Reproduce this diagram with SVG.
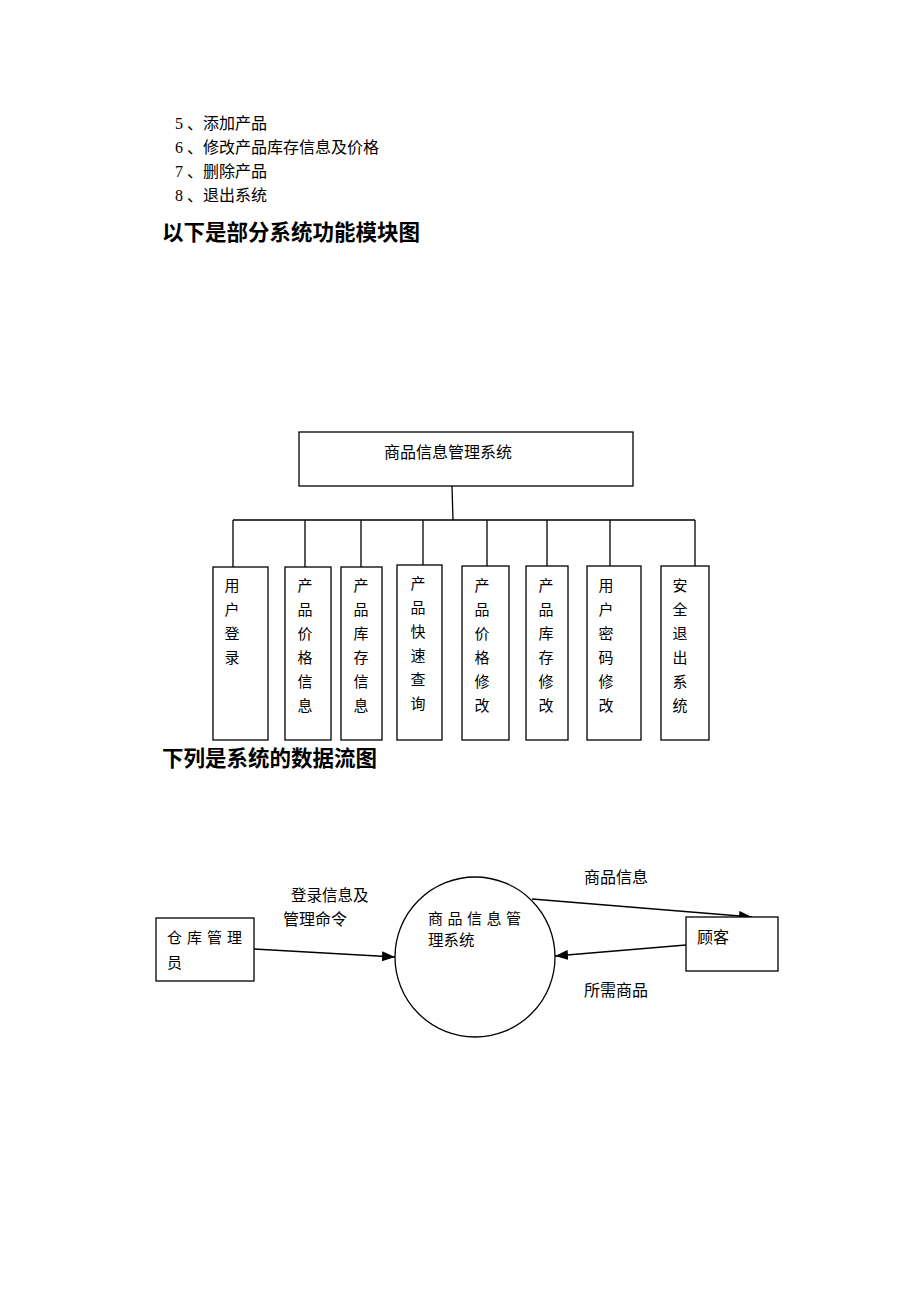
<svg xmlns="http://www.w3.org/2000/svg" width="920" height="1302" viewBox="0 0 920 1302">
<style>
text{font-family:"Liberation Serif","Noto Sans CJK SC",serif;fill:#000}
.t{font-size:16px}
.h{font-size:21.5px;font-weight:bold;font-family:"Liberation Sans","Noto Sans CJK SC",sans-serif}
.v{font-size:15px;text-anchor:middle;font-family:"Liberation Sans","Noto Sans CJK SC",sans-serif}
.s{font-size:15px;font-family:"Liberation Sans","Noto Sans CJK SC",sans-serif}
.box{fill:#fff;stroke:#000;stroke-width:1.3}
.ln{stroke:#000;stroke-width:1.3;fill:none}
</style>
<defs>
<marker id="ah" viewBox="0 0 13 10" refX="13" refY="5" markerWidth="13" markerHeight="10" markerUnits="userSpaceOnUse" orient="auto">
<path d="M0,0 L13,5 L0,10 Z" fill="#000"/>
</marker>
</defs>
<rect width="920" height="1302" fill="#fff"/>
<g id="intro">
<text class="t" x="175" y="129">5 、添加产品</text>
<text class="t" x="175" y="153">6 、修改产品库存信息及价格</text>
<text class="t" x="175" y="177">7 、删除产品</text>
<text class="t" x="175" y="201">8 、退出系统</text>
<text class="h" x="162" y="240">以下是部分系统功能模块图</text>
<text class="h" x="162" y="766">下列是系统的数据流图</text>
</g>
<g id="connectors">
<path class="ln" d="M452,486 L453,520 M233,520 L695,520 M233,520 L233,567 M305,520 L305,567 M361,520 L361,567 M423,520 L423,565 M487,520 L487,566 M547,520 L547,566 M610,520 L610,566 M695,520 L695,566"/>
<line class="ln" x1="254" y1="949" x2="395" y2="957" marker-end="url(#ah)"/>
<line class="ln" x1="532" y1="899" x2="752" y2="917" marker-end="url(#ah)"/>
<line class="ln" x1="686" y1="945" x2="555" y2="956" marker-end="url(#ah)"/>
</g>
<g id="root">
<rect class="box" x="299" y="432" width="334" height="54"/>
<text class="s" x="384" y="458" style="font-size:16px">商品信息管理系统</text>
</g>
<g id="m1"><rect class="box" x="213" y="567" width="55" height="173"/>
<text class="v" x="232"><tspan x="232" y="591">用</tspan><tspan x="232" y="615">户</tspan><tspan x="232" y="639">登</tspan><tspan x="232" y="663">录</tspan></text></g>
<g id="m2"><rect class="box" x="285" y="567" width="46" height="173"/>
<text class="v"><tspan x="305" y="591">产</tspan><tspan x="305" y="615">品</tspan><tspan x="305" y="639">价</tspan><tspan x="305" y="663">格</tspan><tspan x="305" y="687">信</tspan><tspan x="305" y="711">息</tspan></text></g>
<g id="m3"><rect class="box" x="341" y="567" width="41" height="173"/>
<text class="v"><tspan x="361" y="591">产</tspan><tspan x="361" y="615">品</tspan><tspan x="361" y="639">库</tspan><tspan x="361" y="663">存</tspan><tspan x="361" y="687">信</tspan><tspan x="361" y="711">息</tspan></text></g>
<g id="m4"><rect class="box" x="397" y="565" width="45" height="175"/>
<text class="v"><tspan x="418" y="589">产</tspan><tspan x="418" y="613">品</tspan><tspan x="418" y="637">快</tspan><tspan x="418" y="661">速</tspan><tspan x="418" y="685">查</tspan><tspan x="418" y="709">询</tspan></text></g>
<g id="m5"><rect class="box" x="462" y="566" width="47" height="174"/>
<text class="v"><tspan x="482" y="591">产</tspan><tspan x="482" y="615">品</tspan><tspan x="482" y="639">价</tspan><tspan x="482" y="663">格</tspan><tspan x="482" y="687">修</tspan><tspan x="482" y="711">改</tspan></text></g>
<g id="m6"><rect class="box" x="526" y="566" width="42" height="174"/>
<text class="v"><tspan x="546" y="591">产</tspan><tspan x="546" y="615">品</tspan><tspan x="546" y="639">库</tspan><tspan x="546" y="663">存</tspan><tspan x="546" y="687">修</tspan><tspan x="546" y="711">改</tspan></text></g>
<g id="m7"><rect class="box" x="587" y="566" width="54" height="174"/>
<text class="v"><tspan x="606" y="591">用</tspan><tspan x="606" y="615">户</tspan><tspan x="606" y="639">密</tspan><tspan x="606" y="663">码</tspan><tspan x="606" y="687">修</tspan><tspan x="606" y="711">改</tspan></text></g>
<g id="m8"><rect class="box" x="661" y="566" width="48" height="174"/>
<text class="v"><tspan x="680" y="591">安</tspan><tspan x="680" y="615">全</tspan><tspan x="680" y="639">退</tspan><tspan x="680" y="663">出</tspan><tspan x="680" y="687">系</tspan><tspan x="680" y="711">统</tspan></text></g>
<g id="keeper">
<rect class="box" x="156" y="918" width="98" height="63"/>
<text class="s" x="167" y="943" letter-spacing="5">仓库管理</text>
<text class="s" x="167" y="968">员</text>
</g>
<g id="system">
<circle class="box" cx="475" cy="957" r="80"/>
<text class="s" x="428" y="924" letter-spacing="4.5">商品信息管</text>
<text class="s" x="428" y="946" style="font-size:15.5px">理系统</text>
</g>
<g id="customer">
<rect class="box" x="686" y="917" width="92" height="54"/>
<text class="s" x="697" y="943" style="font-size:16px">顾客</text>
</g>
<g id="labels">
<text class="s" x="291" y="901" style="font-size:15.5px">登录信息及</text>
<text class="s" x="283" y="925" style="font-size:16px">管理命令</text>
<text class="s" x="584" y="883" style="font-size:16px">商品信息</text>
<text class="s" x="584" y="996" style="font-size:16px">所需商品</text>
</g>
</svg>
